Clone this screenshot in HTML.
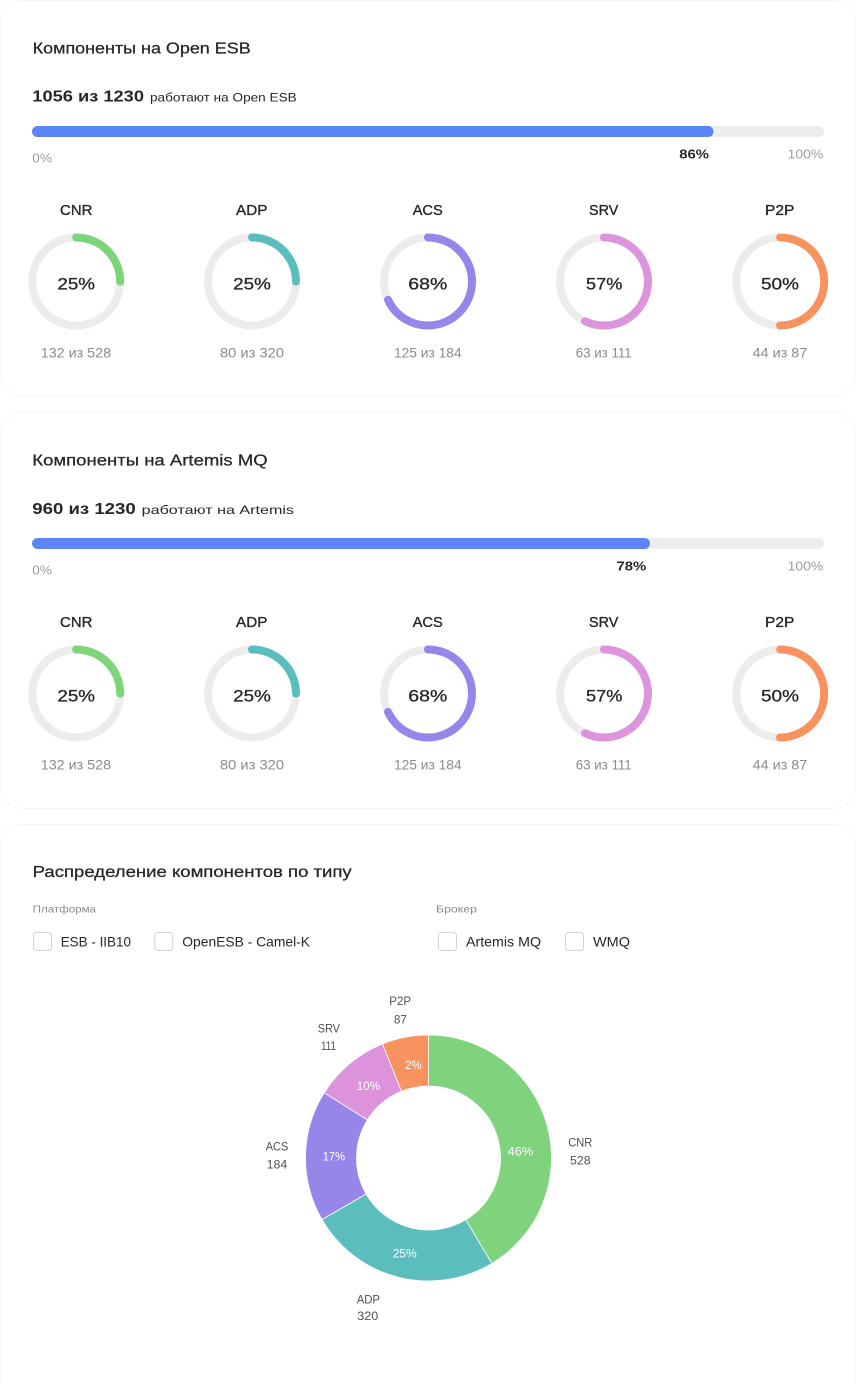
<!DOCTYPE html>
<html>
<head>
<meta charset="utf-8">
<style>
  html, body { margin: 0; padding: 0; background: #ffffff; }
  body { width: 856px; height: 1384px; overflow: hidden; }
  svg { display: block; }
  text { font-family: "Liberation Sans", "Noto Sans CJK SC", sans-serif; }
  .t { fill: #26262b; }
  .g { fill: #8c8c8c; }
  .lg { fill: #9e9e9e; }
  .pl { fill: #505050; }
  .w { fill: #ffffff; }
</style>
</head>
<body>
<svg width="856" height="1384" viewBox="0 0 856 1384" xmlns="http://www.w3.org/2000/svg">
  <!-- cards -->
  <rect x="0.5" y="0.5" width="855" height="396" rx="22" fill="#fff" stroke="#f6f6f6"/>
  <rect x="0.5" y="412.5" width="855" height="396" rx="22" fill="#fff" stroke="#f6f6f6"/>
  <rect x="0.5" y="824.5" width="855" height="580" rx="22" fill="#fff" stroke="#f6f6f6"/>

  <!-- ===== Card 1 ===== -->
  <text x="32.7" y="53.3" font-size="15.5" class="t" stroke="#26262b" stroke-width="0.25" textLength="218" lengthAdjust="spacingAndGlyphs">Компоненты на Open ESB</text>
  <text x="32.3" y="101.7" font-size="15.5" font-weight="bold" class="t" textLength="111.7" lengthAdjust="spacingAndGlyphs">1056 из 1230</text>
  <text x="150" y="101.7" font-size="12" class="t" textLength="146.7" lengthAdjust="spacingAndGlyphs">работают на Open ESB</text>
  <rect x="32" y="126" width="792" height="11" rx="5.5" fill="#efecec"/>
  <rect x="32" y="126" width="681.5" height="11" rx="5.5" fill="#5b85f7"/>
  <text x="32.3" y="162.3" font-size="12.5" class="lg" textLength="19.7" lengthAdjust="spacingAndGlyphs">0%</text>
  <text x="679.3" y="158.3" font-size="13" font-weight="bold" class="t" textLength="29.7" lengthAdjust="spacingAndGlyphs">86%</text>
  <text x="787.7" y="158.3" font-size="13" class="lg" textLength="35.6" lengthAdjust="spacingAndGlyphs">100%</text>

  <!-- donuts card 1 -->
  <g>
    <text x="76.2" y="215" font-size="15" text-anchor="middle" class="t" stroke="#26262b" stroke-width="0.35" textLength="32.3" lengthAdjust="spacingAndGlyphs">CNR</text>
    <circle cx="76.2" cy="281.5" r="44" fill="none" stroke="#eeebeb" stroke-width="8"/>
    <circle cx="76.2" cy="281.5" r="44" fill="none" stroke="#7ed47b" stroke-width="8" stroke-linecap="round" stroke-dasharray="69.1 400" transform="rotate(-90 76.2 281.5)"/>
    <text x="76.2" y="289.3" font-size="17" text-anchor="middle" class="t" stroke="#26262b" stroke-width="0.3" textLength="37.7" lengthAdjust="spacingAndGlyphs">25%</text>
    <text x="75.9" y="357.7" font-size="14" text-anchor="middle" class="g" textLength="70.3" lengthAdjust="spacingAndGlyphs">132 из 528</text>

    <text x="251.7" y="215" font-size="15" text-anchor="middle" class="t" stroke="#26262b" stroke-width="0.35" textLength="31.3" lengthAdjust="spacingAndGlyphs">ADP</text>
    <circle cx="252" cy="281.5" r="44" fill="none" stroke="#eeebeb" stroke-width="8"/>
    <circle cx="252" cy="281.5" r="44" fill="none" stroke="#5bbebe" stroke-width="8" stroke-linecap="round" stroke-dasharray="69.1 400" transform="rotate(-90 252 281.5)"/>
    <text x="252" y="289.3" font-size="17" text-anchor="middle" class="t" stroke="#26262b" stroke-width="0.3" textLength="37.7" lengthAdjust="spacingAndGlyphs">25%</text>
    <text x="252" y="357.7" font-size="14" text-anchor="middle" class="g" textLength="64" lengthAdjust="spacingAndGlyphs">80 из 320</text>

    <text x="427.7" y="215" font-size="15" text-anchor="middle" class="t" stroke="#26262b" stroke-width="0.35" textLength="30" lengthAdjust="spacingAndGlyphs">ACS</text>
    <circle cx="428" cy="281.5" r="44" fill="none" stroke="#eeebeb" stroke-width="8"/>
    <circle cx="428" cy="281.5" r="44" fill="none" stroke="#9785ea" stroke-width="8" stroke-linecap="round" stroke-dasharray="188 400" transform="rotate(-90 428 281.5)"/>
    <text x="427.8" y="289.3" font-size="17" text-anchor="middle" class="t" stroke="#26262b" stroke-width="0.3" textLength="39" lengthAdjust="spacingAndGlyphs">68%</text>
    <text x="427.8" y="357.7" font-size="14" text-anchor="middle" class="g" textLength="67.7" lengthAdjust="spacingAndGlyphs">125 из 184</text>

    <text x="603.7" y="215" font-size="15" text-anchor="middle" class="t" stroke="#26262b" stroke-width="0.35" textLength="29.3" lengthAdjust="spacingAndGlyphs">SRV</text>
    <circle cx="604" cy="281.5" r="44" fill="none" stroke="#eeebeb" stroke-width="8"/>
    <circle cx="604" cy="281.5" r="44" fill="none" stroke="#dc94dc" stroke-width="8" stroke-linecap="round" stroke-dasharray="157.6 400" transform="rotate(-90 604 281.5)"/>
    <text x="604.2" y="289.3" font-size="17" text-anchor="middle" class="t" stroke="#26262b" stroke-width="0.3" textLength="36.3" lengthAdjust="spacingAndGlyphs">57%</text>
    <text x="603.7" y="357.7" font-size="14" text-anchor="middle" class="g" textLength="56" lengthAdjust="spacingAndGlyphs">63 из 111</text>

    <text x="779.7" y="215" font-size="15" text-anchor="middle" class="t" stroke="#26262b" stroke-width="0.35" textLength="29.3" lengthAdjust="spacingAndGlyphs">P2P</text>
    <circle cx="780.2" cy="281.5" r="44" fill="none" stroke="#eeebeb" stroke-width="8"/>
    <circle cx="780.2" cy="281.5" r="44" fill="none" stroke="#f8925e" stroke-width="8" stroke-linecap="round" stroke-dasharray="138.2 400" transform="rotate(-90 780.2 281.5)"/>
    <text x="780" y="289.3" font-size="17" text-anchor="middle" class="t" stroke="#26262b" stroke-width="0.3" textLength="38" lengthAdjust="spacingAndGlyphs">50%</text>
    <text x="780" y="357.7" font-size="14" text-anchor="middle" class="g" textLength="54.6" lengthAdjust="spacingAndGlyphs">44 из 87</text>
  </g>

  <!-- ===== Card 2 ===== -->
  <text x="32.3" y="465.5" font-size="15.5" class="t" stroke="#26262b" stroke-width="0.25" textLength="235.4" lengthAdjust="spacingAndGlyphs">Компоненты на Artemis MQ</text>
  <text x="32.3" y="514" font-size="15.5" font-weight="bold" class="t" textLength="103.4" lengthAdjust="spacingAndGlyphs">960 из 1230</text>
  <text x="141.7" y="514" font-size="12" class="t" textLength="152.3" lengthAdjust="spacingAndGlyphs">работают на Artemis</text>
  <rect x="32" y="538" width="792" height="11" rx="5.5" fill="#efecec"/>
  <rect x="32" y="538" width="618" height="11" rx="5.5" fill="#5b85f7"/>
  <text x="32.3" y="574.3" font-size="12.5" class="lg" textLength="19.7" lengthAdjust="spacingAndGlyphs">0%</text>
  <text x="616.5" y="570.3" font-size="13" font-weight="bold" class="t" textLength="29.7" lengthAdjust="spacingAndGlyphs">78%</text>
  <text x="787.7" y="570.3" font-size="13" class="lg" textLength="35.6" lengthAdjust="spacingAndGlyphs">100%</text>

  <g transform="translate(0 412)">
    <text x="76.2" y="215" font-size="15" text-anchor="middle" class="t" stroke="#26262b" stroke-width="0.35" textLength="32.3" lengthAdjust="spacingAndGlyphs">CNR</text>
    <circle cx="76.2" cy="281.5" r="44" fill="none" stroke="#eeebeb" stroke-width="8"/>
    <circle cx="76.2" cy="281.5" r="44" fill="none" stroke="#7ed47b" stroke-width="8" stroke-linecap="round" stroke-dasharray="69.1 400" transform="rotate(-90 76.2 281.5)"/>
    <text x="76.2" y="289.3" font-size="17" text-anchor="middle" class="t" stroke="#26262b" stroke-width="0.3" textLength="37.7" lengthAdjust="spacingAndGlyphs">25%</text>
    <text x="75.9" y="357.7" font-size="14" text-anchor="middle" class="g" textLength="70.3" lengthAdjust="spacingAndGlyphs">132 из 528</text>

    <text x="251.7" y="215" font-size="15" text-anchor="middle" class="t" stroke="#26262b" stroke-width="0.35" textLength="31.3" lengthAdjust="spacingAndGlyphs">ADP</text>
    <circle cx="252" cy="281.5" r="44" fill="none" stroke="#eeebeb" stroke-width="8"/>
    <circle cx="252" cy="281.5" r="44" fill="none" stroke="#5bbebe" stroke-width="8" stroke-linecap="round" stroke-dasharray="69.1 400" transform="rotate(-90 252 281.5)"/>
    <text x="252" y="289.3" font-size="17" text-anchor="middle" class="t" stroke="#26262b" stroke-width="0.3" textLength="37.7" lengthAdjust="spacingAndGlyphs">25%</text>
    <text x="252" y="357.7" font-size="14" text-anchor="middle" class="g" textLength="64" lengthAdjust="spacingAndGlyphs">80 из 320</text>

    <text x="427.7" y="215" font-size="15" text-anchor="middle" class="t" stroke="#26262b" stroke-width="0.35" textLength="30" lengthAdjust="spacingAndGlyphs">ACS</text>
    <circle cx="428" cy="281.5" r="44" fill="none" stroke="#eeebeb" stroke-width="8"/>
    <circle cx="428" cy="281.5" r="44" fill="none" stroke="#9785ea" stroke-width="8" stroke-linecap="round" stroke-dasharray="188 400" transform="rotate(-90 428 281.5)"/>
    <text x="427.8" y="289.3" font-size="17" text-anchor="middle" class="t" stroke="#26262b" stroke-width="0.3" textLength="39" lengthAdjust="spacingAndGlyphs">68%</text>
    <text x="427.8" y="357.7" font-size="14" text-anchor="middle" class="g" textLength="67.7" lengthAdjust="spacingAndGlyphs">125 из 184</text>

    <text x="603.7" y="215" font-size="15" text-anchor="middle" class="t" stroke="#26262b" stroke-width="0.35" textLength="29.3" lengthAdjust="spacingAndGlyphs">SRV</text>
    <circle cx="604" cy="281.5" r="44" fill="none" stroke="#eeebeb" stroke-width="8"/>
    <circle cx="604" cy="281.5" r="44" fill="none" stroke="#dc94dc" stroke-width="8" stroke-linecap="round" stroke-dasharray="157.6 400" transform="rotate(-90 604 281.5)"/>
    <text x="604.2" y="289.3" font-size="17" text-anchor="middle" class="t" stroke="#26262b" stroke-width="0.3" textLength="36.3" lengthAdjust="spacingAndGlyphs">57%</text>
    <text x="603.7" y="357.7" font-size="14" text-anchor="middle" class="g" textLength="56" lengthAdjust="spacingAndGlyphs">63 из 111</text>

    <text x="779.7" y="215" font-size="15" text-anchor="middle" class="t" stroke="#26262b" stroke-width="0.35" textLength="29.3" lengthAdjust="spacingAndGlyphs">P2P</text>
    <circle cx="780.2" cy="281.5" r="44" fill="none" stroke="#eeebeb" stroke-width="8"/>
    <circle cx="780.2" cy="281.5" r="44" fill="none" stroke="#f8925e" stroke-width="8" stroke-linecap="round" stroke-dasharray="138.2 400" transform="rotate(-90 780.2 281.5)"/>
    <text x="780" y="289.3" font-size="17" text-anchor="middle" class="t" stroke="#26262b" stroke-width="0.3" textLength="38" lengthAdjust="spacingAndGlyphs">50%</text>
    <text x="780" y="357.7" font-size="14" text-anchor="middle" class="g" textLength="54.6" lengthAdjust="spacingAndGlyphs">44 из 87</text>
  </g>

  <!-- ===== Card 3 ===== -->
  <text x="32.7" y="877" font-size="15.5" class="t" stroke="#26262b" stroke-width="0.25" textLength="319" lengthAdjust="spacingAndGlyphs">Распределение компонентов по типу</text>
  <text x="32.7" y="912.3" font-size="10.5" class="g" textLength="63.3" lengthAdjust="spacingAndGlyphs">Платформа</text>
  <text x="436" y="912.3" font-size="10.5" class="g" textLength="41" lengthAdjust="spacingAndGlyphs">Брокер</text>

  <rect x="33.5" y="932.5" width="18" height="18" rx="3" fill="#fff" stroke="#d3d3d3"/>
  <text x="60.7" y="946.7" font-size="14" class="t" textLength="70.3" lengthAdjust="spacingAndGlyphs">ESB - IIB10</text>
  <rect x="154.8" y="932.5" width="18" height="18" rx="3" fill="#fff" stroke="#d3d3d3"/>
  <text x="182.3" y="946.7" font-size="14" class="t" textLength="127.7" lengthAdjust="spacingAndGlyphs">OpenESB - Camel-K</text>
  <rect x="438.5" y="932.5" width="18" height="18" rx="3" fill="#fff" stroke="#d3d3d3"/>
  <text x="466" y="946.7" font-size="14" class="t" textLength="75" lengthAdjust="spacingAndGlyphs">Artemis MQ</text>
  <rect x="565.5" y="932.5" width="18" height="18" rx="3" fill="#fff" stroke="#d3d3d3"/>
  <text x="593" y="946.7" font-size="14" class="t" textLength="37" lengthAdjust="spacingAndGlyphs">WMQ</text>

  <!-- pie -->
  <g stroke="#ffffff" stroke-width="0.8" stroke-linejoin="round">
    <path d="M428.5 1035 A123 123 0 0 1 491.85 1263.44 L465.58 1219.72 A72 72 0 0 0 428.5 1086 Z" fill="#7fd37c"/>
    <path d="M491.85 1263.44 A123 123 0 0 1 321.98 1219.5 L366.15 1194 A72 72 0 0 0 465.58 1219.72 Z" fill="#5cbdbd"/>
    <path d="M321.98 1219.5 A123 123 0 0 1 324.19 1092.82 L367.44 1119.85 A72 72 0 0 0 366.15 1194 Z" fill="#9885e9"/>
    <path d="M324.19 1092.82 A123 123 0 0 1 382.42 1043.96 L401.53 1091.24 A72 72 0 0 0 367.44 1119.85 Z" fill="#dc93dc"/>
    <path d="M382.42 1043.96 A123 123 0 0 1 428.5 1035 L428.5 1086 A72 72 0 0 0 401.53 1091.24 Z" fill="#f8935f"/>
  </g>

  <!-- pie percent labels -->
  <text x="405" y="1069" font-size="12" class="w" textLength="16.7" lengthAdjust="spacingAndGlyphs">2%</text>
  <text x="356.7" y="1090" font-size="12" class="w" textLength="23.3" lengthAdjust="spacingAndGlyphs">10%</text>
  <text x="322.7" y="1160.7" font-size="12" class="w" textLength="22.3" lengthAdjust="spacingAndGlyphs">17%</text>
  <text x="507.7" y="1155.7" font-size="12" class="w" textLength="25.6" lengthAdjust="spacingAndGlyphs">46%</text>
  <text x="392.7" y="1257.3" font-size="12" class="w" textLength="24" lengthAdjust="spacingAndGlyphs">25%</text>

  <!-- pie outer labels -->
  <text x="389.3" y="1005" font-size="11.5" class="pl" textLength="21.7" lengthAdjust="spacingAndGlyphs">P2P</text>
  <text x="394" y="1023.3" font-size="11.5" class="pl" textLength="12.7" lengthAdjust="spacingAndGlyphs">87</text>
  <text x="317.7" y="1032.7" font-size="11.5" class="pl" textLength="22.3" lengthAdjust="spacingAndGlyphs">SRV</text>
  <text x="321" y="1050" font-size="11.5" class="pl" textLength="15" lengthAdjust="spacingAndGlyphs">111</text>
  <text x="265.7" y="1150.7" font-size="11.5" class="pl" textLength="22.6" lengthAdjust="spacingAndGlyphs">ACS</text>
  <text x="266.7" y="1168.3" font-size="11.5" class="pl" textLength="20.6" lengthAdjust="spacingAndGlyphs">184</text>
  <text x="568.3" y="1146.7" font-size="11.5" class="pl" textLength="24" lengthAdjust="spacingAndGlyphs">CNR</text>
  <text x="570" y="1164.3" font-size="11.5" class="pl" textLength="20.7" lengthAdjust="spacingAndGlyphs">528</text>
  <text x="356.7" y="1303.3" font-size="11.5" class="pl" textLength="23.3" lengthAdjust="spacingAndGlyphs">ADP</text>
  <text x="357.3" y="1320" font-size="11.5" class="pl" textLength="21" lengthAdjust="spacingAndGlyphs">320</text>
</svg>
</body>
</html>
